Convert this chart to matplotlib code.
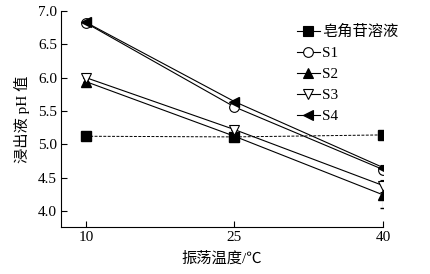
import matplotlib
matplotlib.use("Agg")
import matplotlib.pyplot as plt
from matplotlib.lines import Line2D

# --- Data ---
temps = [10, 25, 40]
saponin = [5.12, 5.11, 5.14]
s1 = [6.82, 5.56, 4.62]
s2 = [5.94, 5.12, 4.24]
s3 = [6.00, 5.22, 4.38]
s4 = [6.83, 5.64, 4.65]
s1_err = [0, 0, 0.07]
s2_err = [0, 0, 0.20]
s3_err = [0, 0, 0.09]
s4_err = [0, 0, 0.03]

labels = ["皂角苷溶液", "S1", "S2", "S3", "S4"]

plt.rcParams['font.family'] = ['Liberation Serif', 'Noto Sans CJK SC']
plt.rcParams['axes.unicode_minus'] = False

fig = plt.figure(figsize=(4.3, 2.74), dpi=100)
ax = fig.add_axes([0.142, 0.172, 0.749, 0.788])

ms = 7
ax.plot(temps, saponin, ls=(0, (3, 1.5)), lw=0.7, color='black', marker='s',
        ms=ms, mfc='black', mec='black')
ax.errorbar(temps, s1, yerr=s1_err, lw=0.8, color='black', marker='o', ms=ms,
            mfc='white', mec='black', mew=0.8, capsize=2.5, elinewidth=0.8)
ax.errorbar(temps, s2, yerr=s2_err, lw=0.8, color='black', marker='^', ms=ms,
            mfc='black', mec='black', capsize=2.5, elinewidth=0.8)
ax.errorbar(temps, s3, yerr=s3_err, lw=0.8, color='black', marker='v', ms=ms,
            mfc='white', mec='black', mew=0.8, capsize=2.5, elinewidth=0.8)
ax.errorbar(temps, s4, yerr=s4_err, lw=0.8, color='black', marker='<', ms=ms,
            mfc='black', mec='black', capsize=2.5, elinewidth=0.8)

ax.set_xlim(7.5, 40)
ax.set_ylim(3.76, 7.0)
ax.set_xticks(temps)
ax.set_yticks([4.0, 4.5, 5.0, 5.5, 6.0, 6.5, 7.0])
ax.set_yticklabels(["4.0", "4.5", "5.0", "5.5", "6.0", "6.5", "7.0"])
ax.tick_params(direction='in', length=4, width=0.8, labelsize=11, pad=3)
for side in ['top', 'right']:
    ax.spines[side].set_visible(False)
for side in ['left', 'bottom']:
    ax.spines[side].set_linewidth(0.8)

ax.set_xlabel("振荡温度/℃", fontsize=11, labelpad=5)
ax.set_ylabel("浸出液 pH 值", fontsize=11, labelpad=6)

# legend handles: solid line + marker, no error bars
markers = ['s', 'o', '^', 'v', '<']
fills = ['black', 'white', 'black', 'white', 'black']
handles = [Line2D([], [], color='black', lw=0.8, marker=m, ms=ms, mfc=f,
                  mec='black', mew=0.8) for m, f in zip(markers, fills)]
fig.legend(handles, labels, loc='upper left', bbox_to_anchor=(297 / 430, 1 - 25 / 274),
           frameon=False, fontsize=11, handlelength=1.5, handletextpad=0.15,
           labelspacing=0.48, borderpad=0, borderaxespad=0)

fig.savefig("out.png", dpi=100)
